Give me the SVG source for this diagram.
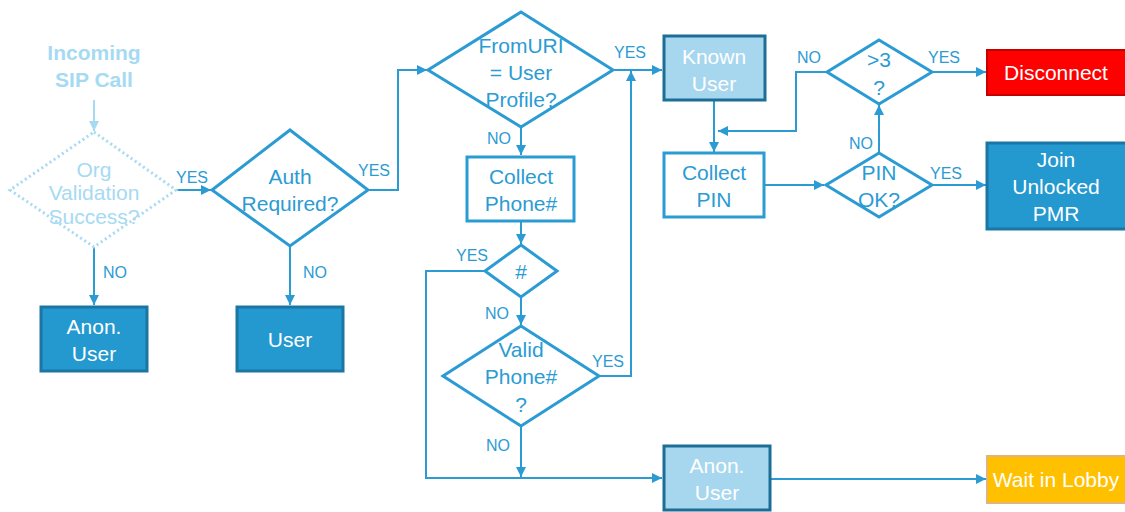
<svg xmlns="http://www.w3.org/2000/svg" width="1125" height="512" viewBox="0 0 1125 512">
<defs>
<marker id="ah" viewBox="0 0 10 10" refX="10" refY="5" markerWidth="10" markerHeight="10" markerUnits="userSpaceOnUse" orient="auto"><path d="M0,0 L10,5 L0,10 z" fill="#2b9bd3"/></marker>
<marker id="ahf" viewBox="0 0 10 10" refX="10" refY="5" markerWidth="10" markerHeight="10" markerUnits="userSpaceOnUse" orient="auto"><path d="M0,0 L10,5 L0,10 z" fill="#a6daf2"/></marker>
<style>
text{font-family:"Liberation Sans",Arial,sans-serif;text-anchor:middle;}
.t{font-size:21px;fill:#2b9bd3;}
.w{font-size:21px;fill:#ffffff;}
.f{font-size:21px;fill:#a6daf2;}
.lb{font-size:16px;fill:#2b9bd3;text-anchor:start;}
.dia{fill:#ffffff;stroke:#2b9bd3;stroke-width:3;}
.wb{fill:#ffffff;stroke:#2b9bd3;stroke-width:3;}
.db{fill:#2399cf;stroke:#1b76a4;stroke-width:3;}
.lbx{fill:#a7d7ee;stroke:#1c6e97;stroke-width:3;}
.c{fill:none;stroke:#2b9bd3;stroke-width:2;}
</style>
</defs>

<g id="connectors">
<line x1="94" y1="100" x2="94" y2="131" stroke="#a6daf2" stroke-width="2" marker-end="url(#ahf)"/>
<line class="c" x1="176" y1="190" x2="211" y2="190" marker-end="url(#ah)"/>
<line class="c" x1="94" y1="247" x2="94" y2="305" marker-end="url(#ah)"/>
<polyline class="c" points="368,190 398,190 398,70 427,70" marker-end="url(#ah)"/>
<line class="c" x1="290" y1="246" x2="290" y2="305" marker-end="url(#ah)"/>
<line class="c" x1="613" y1="70" x2="662" y2="70" marker-end="url(#ah)"/>
<line class="c" x1="521" y1="127" x2="521" y2="155" marker-end="url(#ah)"/>
<line class="c" x1="521" y1="221" x2="521" y2="244" marker-end="url(#ah)"/>
<polyline class="c" points="485,271 426,271 426,478 662,478" marker-end="url(#ah)"/>
<line class="c" x1="521" y1="297" x2="521" y2="325" marker-end="url(#ah)"/>
<polyline class="c" points="599,376 631,376 631,71" marker-end="url(#ah)"/>
<line class="c" x1="521" y1="426" x2="521" y2="477" marker-end="url(#ah)"/>
<line class="c" x1="770" y1="479" x2="986" y2="479" marker-end="url(#ah)"/>
<line class="c" x1="714" y1="100" x2="714" y2="152" marker-end="url(#ah)"/>
<line class="c" x1="764" y1="185" x2="824" y2="185" marker-end="url(#ah)"/>
<line class="c" x1="879" y1="153" x2="879" y2="105" marker-end="url(#ah)"/>
<polyline class="c" points="827,72 796,72 796,131 718,131" marker-end="url(#ah)"/>
<line class="c" x1="932" y1="72" x2="986" y2="72" marker-end="url(#ah)"/>
<line class="c" x1="932" y1="185" x2="986" y2="185" marker-end="url(#ah)"/>
<text class="lb" x="176" y="183">YES</text>
<text class="lb" x="103" y="278">NO</text>
<text class="lb" x="358" y="176">YES</text>
<text class="lb" x="303" y="278">NO</text>
<text class="lb" x="614" y="58">YES</text>
<text class="lb" x="487" y="144">NO</text>
<text class="lb" x="456" y="261">YES</text>
<text class="lb" x="485" y="319">NO</text>
<text class="lb" x="592" y="367">YES</text>
<text class="lb" x="486" y="451">NO</text>
<text class="lb" x="797" y="63">NO</text>
<text class="lb" x="928" y="63">YES</text>
<text class="lb" x="849" y="149">NO</text>
<text class="lb" x="930" y="179">YES</text>
</g>

<g id="start">
<text x="94" y="60" style="font-size:21px;font-weight:bold;fill:#a6daf2">Incoming</text>
<text x="94" y="87" style="font-size:21px;font-weight:bold;fill:#a6daf2">SIP Call</text>
</g>

<g id="org-validation">
<polygon points="94,132 176,190 94,247 10,190" fill="#ffffff" stroke="#a6daf2" stroke-width="3" stroke-dasharray="2,3"/>
<text class="f" x="94" y="177">Org</text>
<text class="f" x="94" y="200">Validation</text>
<text class="f" x="94" y="224">Success?</text>
</g>

<g id="anon-user-1">
<rect class="db" x="41" y="307" width="106" height="64"/>
<text class="w" x="94" y="334">Anon.</text>
<text class="w" x="94" y="361">User</text>
</g>

<g id="auth-required">
<polygon class="dia" points="290,130 368,190 290,246 212,190"/>
<text class="t" x="290" y="184">Auth</text>
<text class="t" x="290" y="211">Required?</text>
</g>

<g id="user">
<rect class="db" x="237" y="307" width="106" height="64"/>
<text class="w" x="290" y="347">User</text>
</g>

<g id="fromuri">
<polygon class="dia" points="521,12 613,70 521,127 428,70"/>
<text class="t" x="521" y="53">FromURI</text>
<text class="t" x="521" y="80">= User</text>
<text class="t" x="521" y="107">Profile?</text>
</g>

<g id="collect-phone">
<rect class="wb" x="467" y="157" width="107" height="64"/>
<text class="t" x="521" y="184">Collect</text>
<text class="t" x="521" y="211">Phone#</text>
</g>

<g id="hash">
<polygon class="dia" points="521,245 557,271 521,297 485,271"/>
<text class="t" x="521" y="279">#</text>
</g>

<g id="valid-phone">
<polygon class="dia" points="521,326 599,376 521,426 443,376"/>
<text class="t" x="521" y="357">Valid</text>
<text class="t" x="521" y="384">Phone#</text>
<text class="t" x="521" y="412">?</text>
</g>

<g id="known-user">
<rect class="lbx" x="664" y="36" width="101" height="64"/>
<text class="w" x="714" y="64">Known</text>
<text class="w" x="714" y="91">User</text>
</g>

<g id="collect-pin">
<rect class="wb" x="664" y="153" width="100" height="64"/>
<text class="t" x="714" y="180">Collect</text>
<text class="t" x="714" y="207">PIN</text>
</g>

<g id="pin-ok">
<polygon class="dia" points="879,153 932,185 879,217 826,185"/>
<text class="t" x="879" y="180">PIN</text>
<text class="t" x="879" y="207">OK?</text>
</g>

<g id="gt3">
<polygon class="dia" points="879,40 932,72 879,104 827,72"/>
<text class="t" x="879" y="67">&gt;3</text>
<text class="t" x="879" y="95">?</text>
</g>

<g id="disconnect">
<rect x="987" y="50" width="140" height="45" fill="#ff0000" stroke="#c40000" stroke-width="2"/>
<text class="w" x="1056" y="80">Disconnect</text>
</g>

<g id="join-pmr">
<rect class="db" x="987" y="143" width="140" height="86"/>
<text class="w" x="1056" y="167">Join</text>
<text class="w" x="1056" y="194">Unlocked</text>
<text class="w" x="1056" y="221">PMR</text>
</g>

<g id="anon-user-2">
<rect class="lbx" x="664" y="446" width="106" height="64"/>
<text class="w" x="717" y="473">Anon.</text>
<text class="w" x="717" y="500">User</text>
</g>

<g id="wait-lobby">
<rect x="987" y="456" width="140" height="47" fill="#ffc000" stroke="#e2b47a" stroke-width="2"/>
<text class="w" x="1056" y="487">Wait in Lobby</text>
</g>
</svg>
